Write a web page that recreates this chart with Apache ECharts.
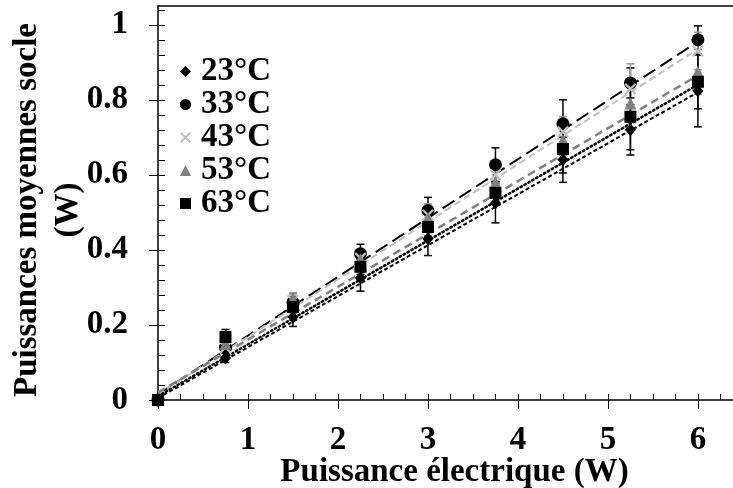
<!DOCTYPE html>
<html>
<head>
<meta charset="utf-8">
<script src="https://cdn.jsdelivr.net/npm/echarts@6/dist/echarts.min.js"></script>
<style>html,body{margin:0;padding:0;background:#fff}#c{width:733px;height:488px}</style>
</head>
<body>
<div id="c"></div>
<script>
// ---- data ----
const xValues = [0, 0.75, 1.5, 2.25, 3, 3.75, 4.5, 5.25, 6];
const seriesNames = ['23°C', '33°C', '43°C', '53°C', '63°C'];
const y23 = [0, 0.112, 0.221, 0.325, 0.430, 0.525, 0.640, 0.720, 0.824];
const y33 = [0, 0.140, 0.260, 0.390, 0.505, 0.627, 0.736, 0.845, 0.960];
const y43 = [0, 0.140, 0.265, 0.378, 0.493, 0.600, 0.715, 0.829, 0.930];
const y53 = [0, 0.150, 0.270, 0.375, 0.485, 0.580, 0.693, 0.790, 0.875];
const y63 = [0, 0.168, 0.248, 0.355, 0.461, 0.552, 0.669, 0.755, 0.848];
const err23 = [0, 0.012, 0.025, 0.035, 0.045, 0.053, 0.060, 0.067, 0.096];
const err33 = [0, 0.010, 0.015, 0.025, 0.035, 0.045, 0.064, 0.040, 0.037];
const err43 = [0, 0.010, 0.015, 0.020, 0.030, 0.035, 0.040, 0.067, 0.050];
const err53 = [0, 0.010, 0.015, 0.020, 0.025, 0.035, 0.040, 0.050, 0.060];
const err63 = [0, 0.020, 0.015, 0.020, 0.025, 0.030, 0.064, 0.088, 0.072];
// trend lines: values at x = 0 and x = 6
const fitX = [0, 6];
const fit23 = [0.005, 0.820];
const fit33 = [0.015, 0.955];
const fit43 = [0.015, 0.935];
const fit53 = [0.020, 0.865];
const fit63 = [0.010, 0.840];
// tick labels
const xTickLabels = [0, 1, 2, 3, 4, 5, 6];
const yTickLabels = [0, 0.2, 0.4, 0.6, 0.8, 1];
const xMinorStep = 0.25, yMinorStep = 0.04;

const X_MAX = 6.39, Y_MAX = 1.05;
const FONT = '"Liberation Serif", "Times New Roman", serif';

const xMinor = []; for (let i = 0; i * xMinorStep <= X_MAX + 1e-9; i++) xMinor.push(+(i * xMinorStep).toFixed(4));
const yMinor = []; for (let i = 0; i * yMinorStep <= Y_MAX - 0.005; i++) yMinor.push(+(i * yMinorStep).toFixed(4));

const crossPath = 'path://M0,1.3 L1.3,0 L5,3.7 L8.7,0 L10,1.3 L6.3,5 L10,8.7 L8.7,10 L5,6.3 L1.3,10 L0,8.7 L3.7,5 Z';

const defs = [
  {name: seriesNames[0], y: y23, err: err23, fit: fit23, color: '#000000', errColor: '#000000', symbol: 'diamond', size: [11, 13],
   line: {color: '#000000', width: 2, type: [4, 2.5]}},
  {name: seriesNames[1], y: y33, err: err33, fit: fit33, color: '#000000', errColor: '#000000', symbol: 'circle', size: 13,
   line: {color: '#000000', width: 2, type: [14, 6]}},
  {name: seriesNames[2], y: y43, err: err43, fit: fit43, color: '#c0c0c0', errColor: '#9a9a9a', symbol: crossPath, size: 12,
   line: {color: '#c0c0c0', width: 2, type: [7, 4]}},
  {name: seriesNames[3], y: y53, err: err53, fit: fit53, color: '#808080', errColor: '#707070', symbol: 'triangle', size: 12,
   line: {color: '#808080', width: 2.5, type: [8, 5]}},
  {name: seriesNames[4], y: y63, err: err63, fit: fit63, color: '#000000', errColor: '#000000', symbol: 'rect', size: 12,
   line: {color: '#000000', width: 2.5, type: [1.5, 3], cap: 'round'}}
];

const series = [];
defs.forEach(function (d) {
  series.push({
    type: 'line', name: d.name + ' fit', silent: true, symbol: 'none', z: 2,
    data: fitX.map(function (x, i) { return [x, d.fit[i]]; }),
    lineStyle: d.line, animation: false
  });
});
defs.forEach(function (d) {
  const ed = [];
  xValues.forEach(function (x, i) { if (d.err[i] > 0) ed.push([x, d.y[i] - d.err[i], d.y[i] + d.err[i]]); });
  series.push({
    type: 'custom', name: d.name + ' err', silent: true, z: 3, animation: false,
    encode: {x: 0, y: [1, 2]},
    data: ed,
    renderItem: function (params, api) {
      const x = api.value(0);
      const p1 = api.coord([x, api.value(1)]);
      const p2 = api.coord([x, api.value(2)]);
      const st = {stroke: d.errColor, lineWidth: 1.5};
      const hw = 4;
      return {type: 'group', children: [
        {type: 'line', shape: {x1: p1[0], y1: p1[1], x2: p2[0], y2: p2[1]}, style: st},
        {type: 'line', shape: {x1: p1[0] - hw, y1: p1[1], x2: p1[0] + hw, y2: p1[1]}, style: st},
        {type: 'line', shape: {x1: p2[0] - hw, y1: p2[1], x2: p2[0] + hw, y2: p2[1]}, style: st}
      ]};
    }
  });
});
defs.forEach(function (d) {
  series.push({
    type: 'scatter', name: d.name, z: 4, animation: false, clip: false,
    symbol: d.symbol, symbolSize: d.size,
    itemStyle: {color: d.color, opacity: 1},
    data: xValues.map(function (x, i) { return [x, d.y[i]]; })
  });
});

const chart = echarts.init(document.getElementById('c'), null, {renderer: 'canvas'});
chart.setOption({
  animation: false,
  backgroundColor: '#ffffff',
  grid: {left: 158, right: 0, top: 6, bottom: 88, containLabel: false, outerBoundsMode: 'none'},
  legend: {
    orient: 'vertical', left: 175, top: 50,
    data: defs.map(function (d) { return {name: d.name, icon: d.symbol}; }),
    itemWidth: 11, itemHeight: 11, itemGap: 0,
    selectedMode: false,
    textStyle: {fontFamily: FONT, fontWeight: 'bold', fontSize: 33, color: '#000', lineHeight: 30, padding: [2, 0, 0, 5]}
  },
  xAxis: [
    {type: 'value', min: 0, max: X_MAX, position: 'bottom',
     name: 'Puissance électrique (W)', nameLocation: 'middle', nameGap: 56, nameMoveOverlap: false,
     nameTextStyle: {fontFamily: FONT, fontWeight: 'bold', fontSize: 33, color: '#000', padding: [0, 0, 0, 18]},
     axisLine: {show: true, onZero: false, lineStyle: {color: '#000', width: 1.5}},
     axisTick: {show: true, inside: false, length: 9, customValues: xTickLabels, lineStyle: {color: '#000', width: 1}},
     axisLabel: {show: true, customValues: xTickLabels, margin: 24, fontFamily: FONT, fontWeight: 'bold', fontSize: 33, color: '#000'},
     splitLine: {show: false}},
    {type: 'value', min: 0, max: X_MAX, position: 'bottom',
     axisLine: {show: false, onZero: false},
     axisTick: {show: true, inside: true, length: 6, customValues: xMinor, lineStyle: {color: '#000', width: 1}},
     axisLabel: {show: false}, splitLine: {show: false}},
    {type: 'value', min: 0, max: X_MAX, position: 'top',
     axisLine: {show: true, onZero: false, lineStyle: {color: '#000', width: 1.5}},
     axisTick: {show: false}, axisLabel: {show: false}, splitLine: {show: false}}
  ],
  yAxis: [
    {type: 'value', min: 0, max: Y_MAX, position: 'left',
     name: 'Puissances moyennes socle\n(W)', nameLocation: 'middle', nameGap: 69, nameRotate: 90, nameMoveOverlap: false,
     nameTextStyle: {fontFamily: FONT, fontWeight: 'bold', fontSize: 33, color: '#000', lineHeight: 41, align: 'center', padding: [0, 14, 0, 0]},
     axisLine: {show: true, onZero: false, lineStyle: {color: '#000', width: 1.5}},
     axisTick: {show: true, inside: false, length: 9, customValues: yTickLabels, lineStyle: {color: '#000', width: 1}},
     axisLabel: {show: true, customValues: yTickLabels, margin: 30, fontFamily: FONT, fontWeight: 'bold', fontSize: 33, color: '#000'},
     splitLine: {show: false}},
    {type: 'value', min: 0, max: Y_MAX, position: 'left',
     axisLine: {show: false, onZero: false},
     axisTick: {show: true, inside: true, length: 7, customValues: yMinor, lineStyle: {color: '#000', width: 1}},
     axisLabel: {show: false}, splitLine: {show: false}}
  ],
  series: series
});
</script>
</body>
</html>
